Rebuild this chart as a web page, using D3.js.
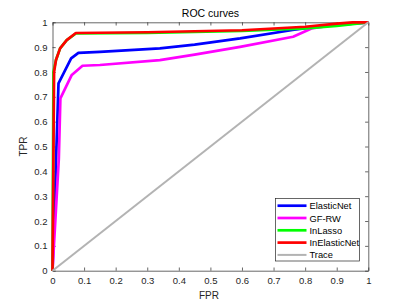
<!DOCTYPE html>
<html><head><meta charset="utf-8">
<script src="https://cdn.jsdelivr.net/npm/d3@7"></script>
<style>body{margin:0;background:#fff;} text{font-family:"Liberation Sans",Arial,sans-serif;}</style>
</head><body><svg id="c" width="407" height="305"></svg>
<script>
const seriesNames = ["ElasticNet","GF-RW","InLasso","InElasticNet","Trace"];
const seriesColors = ["#0000ff","#ff00ff","#00ff00","#ff0000","#b3b3b3"];
const elasticNetFPR = [0,0.019,0.035,0.059,0.082,0.15,0.34,0.45,0.594,0.76,0.815,0.9,1];
const elasticNetTPR = [0,0.754,0.794,0.855,0.877,0.881,0.895,0.91,0.935,0.969,0.978,0.99,1];
const gfrwFPR = [0,0.02,0.025,0.061,0.095,0.15,0.34,0.45,0.594,0.762,0.82,0.9,1];
const gfrwTPR = [0,0.45,0.694,0.788,0.825,0.828,0.848,0.87,0.901,0.942,0.975,0.99,1];
const inLassoFPR = [0,0.003,0.011,0.024,0.045,0.074,0.3,0.6,0.8,0.9,1];
const inLassoTPR = [0,0.8,0.848,0.895,0.928,0.955,0.957,0.965,0.975,0.985,1];
const inElasticNetFPR = [0,0.005,0.011,0.024,0.045,0.074,0.3,0.6,0.8,0.9,0.95,1];
const inElasticNetTPR = [0,0.8,0.848,0.895,0.928,0.957,0.96,0.968,0.982,0.995,1,1];
const traceFPR = [0,1];
const traceTPR = [0,1];
const tickValues = [0,0.1,0.2,0.3,0.4,0.5,0.6,0.7,0.8,0.9,1];
const tickLabels = ["0","0.1","0.2","0.3","0.4","0.5","0.6","0.7","0.8","0.9","1"];

const series = [
  [elasticNetFPR, elasticNetTPR],
  [gfrwFPR, gfrwTPR],
  [inLassoFPR, inLassoTPR],
  [inElasticNetFPR, inElasticNetTPR],
  [traceFPR, traceTPR]
];

const L=52.5,R=368.3,T=22.3,B=270.7;
const svg=d3.select("#c");
const x=d3.scaleLinear().domain([0,1]).range([L,R]);
const y=d3.scaleLinear().domain([0,1]).range([B,T]);
const axc="#262626";
const tl=3.2;
const fmt=(d,i)=>tickLabels[tickValues.indexOf(d)];

const gx=svg.append("g").attr("transform",`translate(0,${B})`).call(d3.axisBottom(x).tickValues(tickValues).tickFormat(fmt).tickSizeInner(-tl).tickSizeOuter(0).tickPadding(7));
const gxt=svg.append("g").attr("transform",`translate(0,${T})`).call(d3.axisTop(x).tickValues(tickValues).tickFormat("").tickSizeInner(-tl).tickSizeOuter(0));
const gy=svg.append("g").attr("transform",`translate(${L},0)`).call(d3.axisLeft(y).tickValues(tickValues).tickFormat(fmt).tickSizeInner(-tl).tickSizeOuter(0).tickPadding(5));
const gyr=svg.append("g").attr("transform",`translate(${R},0)`).call(d3.axisRight(y).tickValues(tickValues).tickFormat("").tickSizeInner(-tl).tickSizeOuter(0));
[gx,gxt,gy,gyr].forEach(g=>{
  g.selectAll("path").attr("stroke",axc).attr("stroke-width",0.7);
  g.selectAll("line").attr("stroke",axc).attr("stroke-width",0.7);
  g.selectAll("text").attr("fill",axc).style("font-size","9.5px").style("font-family","Liberation Sans, Arial, sans-serif");
});

const line=d3.line().x(d=>x(d[0])).y(d=>y(d[1]));
series.forEach((s,i)=>{
  const pts=s[0].map((v,j)=>[v,s[1][j]]);
  svg.append("path").datum(pts).attr("d",line).attr("fill","none")
    .attr("stroke",seriesColors[i]).attr("stroke-width",i===4?2:2.7)
    .attr("stroke-linejoin","round");
});

svg.append("text").attr("x",(L+R)/2).attr("y",16.5).attr("text-anchor","middle").attr("fill","#000").style("font-size","10.5px").text("ROC curves");
svg.append("text").attr("x",(L+R)/2-1.5).attr("y",299).attr("text-anchor","middle").attr("fill",axc).style("font-size","10px").text("FPR");
svg.append("text").attr("transform",`translate(27,${(T+B)/2}) rotate(-90)`).attr("text-anchor","middle").attr("fill",axc).style("font-size","10px").text("TPR");

const lg=svg.append("g");
lg.append("rect").attr("x",275.5).attr("y",198.5).attr("width",84).attr("height",62.5).attr("fill","#fff").attr("stroke",axc).attr("stroke-width",0.7);
seriesNames.forEach((n,i)=>{
  const yy=205.7+i*12.3;
  lg.append("line").attr("x1",277.5).attr("x2",306.5).attr("y1",yy).attr("y2",yy).attr("stroke",seriesColors[i]).attr("stroke-width",i===4?2:2.7);
  lg.append("text").attr("x",309.5).attr("y",yy+3.5).attr("fill","#000").style("font-size","9.3px").text(n);
});
</script></body></html>
